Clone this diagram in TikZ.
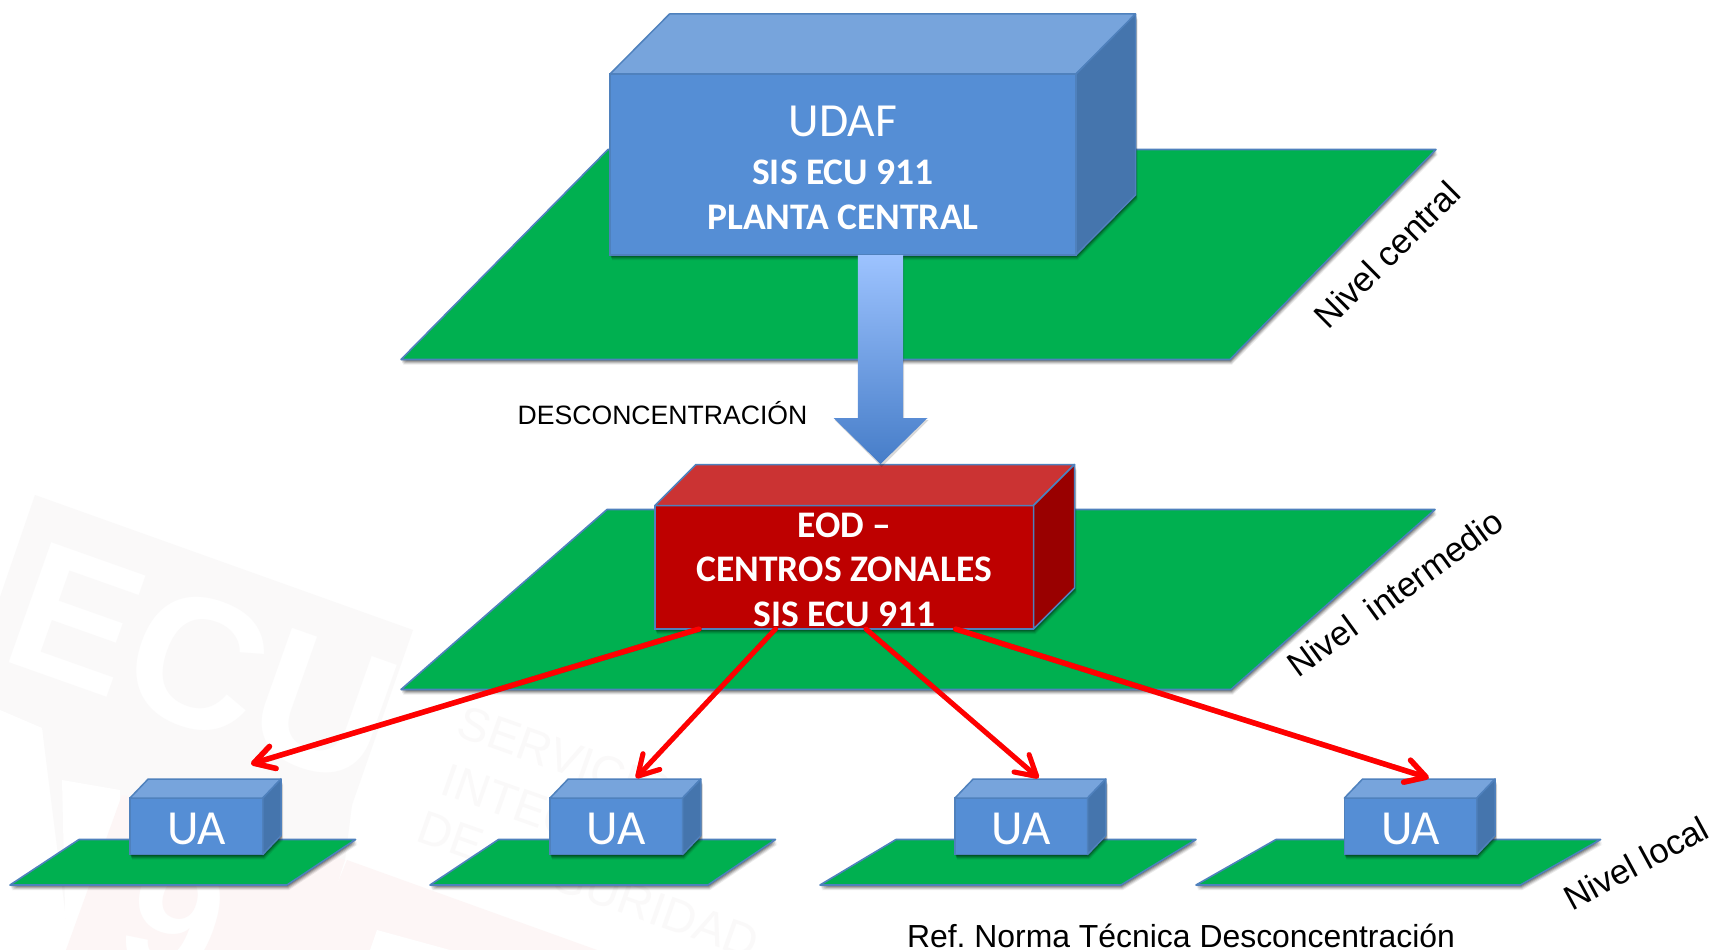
\documentclass[tikz,border=0pt]{standalone}
\usepackage{fontspec}
\setmainfont{Liberation Sans}
\newfontfamily\carlito{Carlito}
\usetikzlibrary{arrows.meta,calc}
\frenchspacing
\definecolor{planegreen}{HTML}{00B050}
\definecolor{edgeblue}{HTML}{4F81BD}
\definecolor{bluefront}{HTML}{558ED5}
\definecolor{bluetop}{HTML}{77A4DC}
\definecolor{blueside}{HTML}{4575AD}
\definecolor{redfront}{HTML}{BE0000}
\definecolor{redtop}{HTML}{CB3333}
\definecolor{redside}{HTML}{990000}
\definecolor{wmgrey}{HTML}{FAF9F9}
\definecolor{wmpink}{HTML}{FDF6F6}
\definecolor{wmtext}{HTML}{FAF9F9}
\tikzset{
  plane/.style={fill=planegreen,draw=edgeblue,line width=1.6pt,line join=round},
  cubefront/.style={rectangle,draw=edgeblue,line width=1.5pt,inner sep=0pt,outer sep=0pt,align=center,text=white},
  bluecube/.style={cubefront,fill=bluefront},
  redcube/.style={cubefront,fill=redfront},
  topface/.style={draw=edgeblue,line width=1.5pt,line join=round},
  redarrow/.style={draw=red,line width=#1,-{Straight Barb[length=20pt,width=23pt,line width=#1,round]},line cap=round},
  redshadow/.style={draw=black,opacity=.22,line width=#1,-{Straight Barb[length=20pt,width=23pt,line width=#1,round]},line cap=round},
  levellabel/.style={inner sep=0pt,font=\fontsize{34.5}{36}\selectfont,text=black},
  wmlabel/.style={inner sep=0pt,anchor=west,rotate=-19.5,text=wmtext,font=\fontsize{47}{50}\selectfont},
  ualabel/.style={font=\carlito\fontsize{49}{49}\selectfont},
  boldlines/.style={font=\carlito\bfseries\fontsize{37.5}{#1}\selectfont},
}
% soft drop shadow of a closed polygon
\newcommand\softshadow[1]{%
  \foreach \dd/\oo in {5/.08,4/.11,3/.15,2/.18,1/.22}{%
    \fill[black,opacity=\oo,shift={(.4*\dd pt,-\dd pt)}] #1;}}
% \cuboid{name}{x}{y}{w}{h}{dx}{dy}{style}{text}
\newcommand\cuboid[9]{%
  \softshadow{(#2,#3+#5) -- ++(#4,0) -- ++(#6,-#7) -- ++(0,-#5) -- ++(-#6,#7) -- ++(-#4,0) -- cycle}%
  \node[#8,anchor=north west,minimum width=#4 pt,minimum height=#5 pt] (#1) at (#2,#3) {#9};}
\newcommand\cubeface[5]{%
  \draw[topface,fill=#4] (#1.north west) -- ++(#2,-#3) -- ++($(#1.north east)-(#1.north west)$) -- (#1.north east) -- cycle;
  \draw[topface,fill=#5] (#1.north east) -- ++(#2,-#3) -- ++($(#1.south east)-(#1.north east)$) -- (#1.south east) -- cycle;}
\newcommand\uatext{\rule{0pt}{36pt}UA}
\begin{document}
\begin{tikzpicture}[x=1pt,y=-1pt]
\useasboundingbox (0,0) rectangle (1711,950);
\fill[white] (0,0) rectangle (1711,950);
% --- watermark ---
\fill[wmgrey] (0,597) -- (35,495) -- (413,630) -- (352,805) -- (345,860) -- (300,950) -- (70,950) -- (42,728) -- (0,710) -- cycle;
\fill[white] (42,728) -- (66,950) -- (0,950) -- (0,710) -- cycle;
\fill[white] (62,780) -- (120,790) -- (118,950) -- (66,950) -- cycle;
\fill[wmpink] (122,795) -- (345,860) -- (316,950) -- (66,950) -- cycle;
\fill[wmpink] (347,860) -- (597,950) -- (310,950) -- cycle;
\fill[white] (377,930) -- (450,950) -- (370,950) -- cycle;
\node[inner sep=0pt,text=white,rotate=-19.5,font=\fontsize{185}{185}\selectfont\bfseries] (wmecu) at (203,664) {ECU};
\node[inner sep=0pt,text=white,rotate=-19.5,font=\fontsize{170}{170}\selectfont\bfseries,anchor=north west] (wmnine) at (150,845) {9};
\node[wmlabel] (wm1) at (460,720) {SERVICIO};
\node[wmlabel] (wm2) at (444,778) {INTEGRADO};
\node[wmlabel] (wm3) at (420,825) {DE SEGURIDAD};
% --- planes ---
\softshadow{(608,149.5) -- (1436,149.5) -- (1230,359.5) -- (401,359.5) -- cycle}
\draw[plane] (608,149.5) -- (1436,149.5) -- (1230,359.5) -- (401,359.5) -- cycle;
\softshadow{(607,509.5) -- (1435,509.5) -- (1231,689.5) -- (401,689.5) -- cycle}
\draw[plane] (607,509.5) -- (1435,509.5) -- (1231,689.5) -- (401,689.5) -- cycle;
\foreach \a/\b/\c/\d in {79/355.6/287/10,498.5/775.5/708/430,896/1196/1121/820,1276/1600.6/1520.4/1196}{
  \softshadow{(\a,839.5) -- (\b,839.5) -- (\c,885) -- (\d,885) -- cycle}
  \draw[plane] (\a,839.5) -- (\b,839.5) -- (\c,885) -- (\d,885) -- cycle;}
% --- central box ---
\cuboid{udaf}{610}{74}{466}{181}{59.5}{60}{bluecube,boldlines=45.5}{%
  {\mdseries\fontsize{47.5}{45.5}\selectfont\rule{0pt}{37pt}UDAF}\\[2.5pt]
  SIS ECU 911\\
  PLANTA CENTRAL}
\cubeface{udaf}{59.5}{60}{bluetop}{blueside}
% --- intermediate box ---
\cuboid{eod}{655}{505.5}{378.5}{123.5}{41}{41}{redcube,boldlines=44.5}{%
  \rule{0pt}{29pt}EOD –\\
  CENTROS ZONALES\\
  SIS ECU 911}
\cubeface{eod}{41}{41}{redtop}{redside}
% --- local boxes ---
\cuboid{uaa}{130}{798}{132.8}{56.5}{18.2}{19}{bluecube,ualabel}{\uatext}
\cubeface{uaa}{18.2}{19}{bluetop}{blueside}
\cuboid{uab}{550}{798}{132.6}{56.5}{18.2}{19}{bluecube,ualabel}{\uatext}
\cubeface{uab}{18.2}{19}{bluetop}{blueside}
\cuboid{uac}{955}{798}{132.6}{56.5}{18.2}{19}{bluecube,ualabel}{\uatext}
\cubeface{uac}{18.2}{19}{bluetop}{blueside}
\cuboid{uad}{1344.4}{798}{132.5}{56.5}{18.2}{19}{bluecube,ualabel}{\uatext}
\cubeface{uad}{18.2}{19}{bluetop}{blueside}
% --- block arrow ---
\coordinate (blockstart) at (880.5,255);
\coordinate (blocktip) at (880.5,464);
\fill[black,opacity=.15] ($(blockstart)+(-21,1)$) -- ($(blockstart)+(23.5,1)$) -- ($(blocktip)+(23.5,-44)$) -- ($(blocktip)+(48,-44)$) -- ($(blocktip)+(1,3)$) -- ($(blocktip)+(-46,-44)$) -- ($(blocktip)+(-21,-44)$) -- cycle;
\shade[top color={rgb,255:red,157;green,195;blue,255},bottom color={rgb,255:red,70;green,125;blue,200}]
  ($(blockstart)+(-22.7,0)$) -- ($(blockstart)+(22.7,0)$) -- ($(blocktip)+(22.7,-46)$) -- ($(blocktip)+(47,-46)$) -- (blocktip) -- ($(blocktip)+(-47,-46)$) -- ($(blocktip)+(-22.7,-46)$) -- cycle;
% --- red connectors ---
\coordinate (from1) at (699,629);   \coordinate (to1) at (251,764);
\coordinate (from2) at (775.5,629); \coordinate (to2) at (636,778);
\coordinate (from3) at (866,629);   \coordinate (to3) at (1038.6,778);
\coordinate (from4) at (955.7,629); \coordinate (to4) at (1428.8,778);
\draw[redshadow=5.5pt,shift={(1pt,-3pt)}] (from1) -- (to1);
\draw[redshadow=5pt,shift={(1pt,-3pt)}] (from2) -- (to2);
\draw[redshadow=5pt,shift={(1pt,-3pt)}] (from3) -- (to3);
\draw[redshadow=5.5pt,shift={(1pt,-3pt)}] (from4) -- (to4);
\draw[redarrow=5.5pt] (from1) -- (to1);
\draw[redarrow=5pt] (from2) -- (to2);
\draw[redarrow=5pt] (from3) -- (to3);
\draw[redarrow=5.5pt] (from4) -- (to4);
% --- labels ---
\node[inner sep=0pt,font=\fontsize{26.6}{28}\selectfont] (desc) at (662.5,413) {DESCONCENTRACIÓN};
\node[levellabel,rotate=44.8] (lvc) at (1387,254.6) {Nivel central};
\node[levellabel,rotate=36] (lvi) at (1395,593) {Nivel~~intermedio};
\node[levellabel,rotate=28.5] (lvl) at (1636,863) {Nivel local};
\node[levellabel,font=\fontsize{31.9}{34}\selectfont] (ref) at (1181,935.5) {Ref. Norma Técnica Desconcentración};
\end{tikzpicture}
\end{document}
